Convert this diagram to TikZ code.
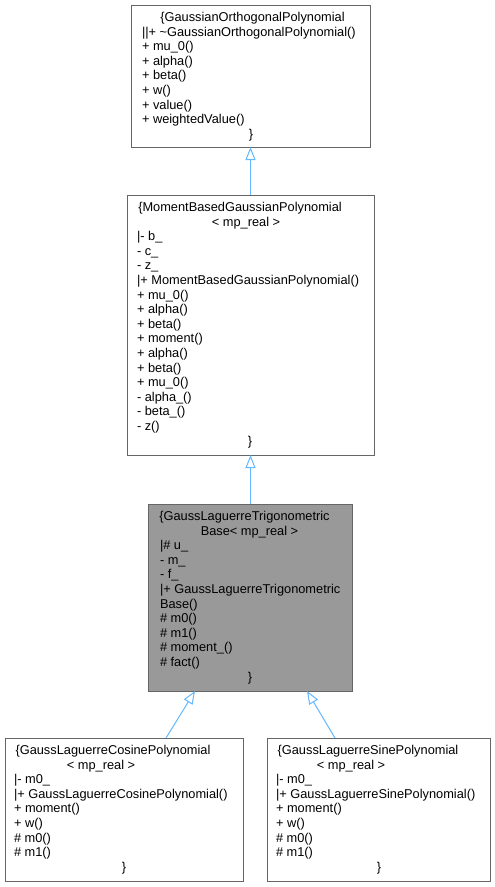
\documentclass[tikz,border=0pt]{standalone}
\usepackage{fontspec}
\setmainfont{Liberation Sans}
\usetikzlibrary{arrows.meta}
\definecolor{edgeblue}{HTML}{63B8FF}
\definecolor{framegray}{HTML}{666666}
\definecolor{basefill}{HTML}{999999}
\tikzset{
  cls/.style={draw=framegray, line width=1pt, rectangle, inner sep=0pt, outer sep=0pt},
  txt/.style={anchor=base west, inner sep=0pt, outer sep=0pt, font=\fontsize{12.8}{14.6}\selectfont},
  ctxt/.style={txt, anchor=base},
  inherit/.style={draw=edgeblue, line width=1pt, -{Triangle[open, length=13pt, width=10pt]}},
}
\begin{document}
\begin{tikzpicture}[x=1pt,y=-1pt]
\useasboundingbox (0,0) rectangle (495,887);
\fill[white] (0,0) rectangle (495,887);

% boxes
\node[cls, minimum width=239pt, minimum height=142pt] (b1) at (250.5,76) {};
\node[cls, minimum width=247pt, minimum height=260pt] (b2) at (250.5,325) {};
\node[cls, fill=basefill, minimum width=204pt, minimum height=187pt] (b3) at (250.5,597.5) {};
\node[cls, minimum width=238pt, minimum height=143pt] (b4) at (124,809.5) {};
\node[cls, minimum width=223pt, minimum height=143pt] (b5) at (378.5,809.5) {};

% box 1 text (top 5)
\node[ctxt] (b1t0) at (252.5,21.5) {\{GaussianOrthogonalPolynomial};
\foreach \s [count=\i from 1] in {||+ \textasciitilde GaussianOrthogonalPolynomial(),+ mu\_0(),+ alpha(),+ beta(),+ w(),+ value(),+ weightedValue()}
  \node[txt] (b1m\i) at (142,21.5+14.6*\i) {\s};
\node[ctxt] (b1e) at (251,21.5+14.6*8) {\}};

% box 2 text (top 195)
\node[ctxt] (b2t0) at (240,211.5) {\{MomentBasedGaussianPolynomial};
\node[ctxt] (b2t1) at (246,211.5+14.6) {< mp\_real >};
\foreach \s [count=\i from 2] in {|- b\_,- c\_,- z\_,|+ MomentBasedGaussianPolynomial(),+ mu\_0(),+ alpha(),+ beta(),+ moment(),+ alpha(),+ beta(),+ mu\_0(),- alpha\_(),- beta\_(),- z()}
  \node[txt] (b2m\i) at (137,211.5+14.6*\i) {\s};
\node[ctxt] (b2e) at (250,211.5+14.6*16) {\}};

% box 3 text (top 504)
\node[ctxt] (b3t0) at (244.5,520.5) {\{GaussLaguerreTrigonometric};
\node[ctxt] (b3t1) at (249.5,520.5+14.6) {Base< mp\_real >};
\foreach \s [count=\i from 2] in {|\# u\_,- m\_,- f\_,|+ GaussLaguerreTrigonometric,Base(),\# m0(),\# m1(),\# moment\_(),\# fact()}
  \node[txt] (b3m\i) at (160,520.5+14.6*\i) {\s};
\node[ctxt] (b3e) at (250,520.5+14.6*11) {\}};

% box 4 text (top 738)
\node[ctxt] (b4t0) at (113,754.5) {\{GaussLaguerreCosinePolynomial};
\node[ctxt] (b4t1) at (101,754.5+14.6) {< mp\_real >};
\foreach \s [count=\i from 2] in {|- m0\_,|+ GaussLaguerreCosinePolynomial(),+ moment(),+ w(),\# m0(),\# m1()}
  \node[txt] (b4m\i) at (14,754.5+14.6*\i) {\s};
\node[ctxt] (b4e) at (124,754.5+14.6*8) {\}};

% box 5 text (top 738)
\node[ctxt] (b5t0) at (368,754.5) {\{GaussLaguerreSinePolynomial};
\node[ctxt] (b5t1) at (351,754.5+14.6) {< mp\_real >};
\foreach \s [count=\i from 2] in {|- m0\_,|+ GaussLaguerreSinePolynomial(),+ moment(),+ w(),\# m0(),\# m1()}
  \node[txt] (b5m\i) at (276,754.5+14.6*\i) {\s};
\node[ctxt] (b5e) at (379,754.5+14.6*8) {\}};

% inheritance arrows
\draw[inherit] (b2.north) -- (b1.south);
\draw[inherit] (b3.north) -- (b2.south);
\draw[inherit] ([xshift=42pt]b4.north) -- ([xshift=-55.5pt]b3.south);
\draw[inherit] ([xshift=-43.5pt]b5.north) -- ([xshift=56.5pt]b3.south);
\end{tikzpicture}
\end{document}
